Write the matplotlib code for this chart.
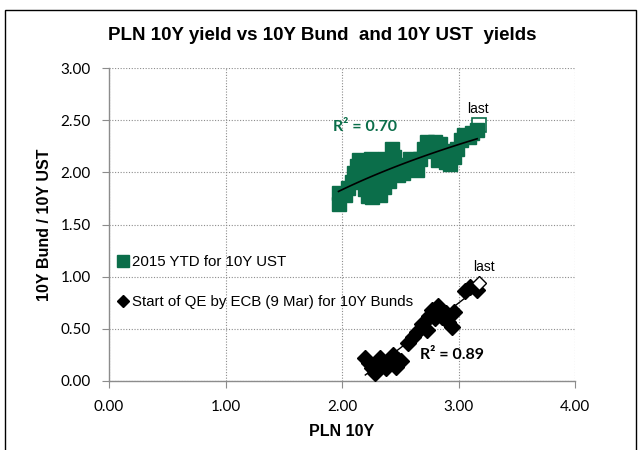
import numpy as np
import matplotlib
matplotlib.use("Agg")
import matplotlib.pyplot as plt
from matplotlib.patches import Rectangle
from matplotlib.lines import Line2D

GREEN = "#0B6E4A"
GRIDC = "#8c8c8c"
NARROW = ["Liberation Sans Narrow", "Liberation Sans", "DejaVu Sans"]
TICKF = ["Lato", "DejaVu Sans"]

# 2015 YTD: PLN 10Y vs 10Y UST
ust_pln = [1.97, 1.97, 2.03, 2.05, 2.09, 2.10, 2.13, 2.15, 2.19, 2.21, 2.20, 2.22,
           2.26, 2.27, 2.27, 2.25, 2.31, 2.33, 2.33, 2.36, 2.37, 2.40, 2.40, 2.43,
           2.45, 2.46, 2.48, 2.52, 2.54, 2.58, 2.62, 2.64, 2.67, 2.70, 2.73, 2.77,
           2.80, 2.82, 2.84, 2.87, 2.89, 2.93, 2.96, 2.99, 3.02, 3.05, 3.09, 3.12, 3.16]
ust_yld = [1.70, 1.80, 1.78, 1.85, 1.91, 1.99, 2.06, 2.12, 2.10, 1.98, 1.84, 1.77,
           1.76, 1.88, 2.02, 2.13, 2.12, 1.97, 1.78, 1.86, 2.13, 2.05, 1.92, 2.22,
           2.15, 2.03, 1.97, 1.99, 2.07, 2.13, 2.08, 2.02, 2.13, 2.22, 2.29, 2.20,
           2.29, 2.12, 2.27, 2.20, 2.10, 2.08, 2.15, 2.22, 2.31, 2.36, 2.34, 2.38, 2.41]
ust_last = (3.18, 2.45)

# Since start of QE by ECB: PLN 10Y vs 10Y Bund
bund_pln = [2.20, 2.23, 2.26, 2.28, 2.30, 2.33, 2.36, 2.38, 2.41, 2.44, 2.46, 2.48,
            2.51, 2.57, 2.61, 2.64, 2.69, 2.73, 2.75, 2.77, 2.80, 2.82, 2.84, 2.86,
            2.89, 2.91, 2.94, 2.96, 3.06, 3.10, 3.16]
bund_yld = [0.22, 0.17, 0.12, 0.08, 0.17, 0.22, 0.17, 0.12, 0.20, 0.25, 0.13, 0.20,
            0.19, 0.36, 0.42, 0.47, 0.55, 0.49, 0.62, 0.68, 0.60, 0.72, 0.66, 0.61,
            0.65, 0.57, 0.52, 0.66, 0.86, 0.90, 0.87]
bund_last = (3.18, 0.94)

r2_ust = "R² = 0.70"
r2_bund = "R² = 0.89"

fig = plt.figure(figsize=(6.42, 4.5), dpi=100)
ax = fig.add_axes([109 / 642, 1 - 381 / 450, 466 / 642, 313 / 450])

# outer chart frame
fig.patches.append(Rectangle((5 / 642, -0.05), 631 / 642, 1.05 - 10 / 450,
                             transform=fig.transFigure, fill=False,
                             edgecolor="black", lw=1.0))

ax.set_xlim(0, 4)
ax.set_ylim(0, 3)
ax.set_xticks(np.arange(0, 4.01, 1.0))
ax.set_yticks(np.arange(0, 3.01, 0.5))
ax.set_xticklabels([f"{v:.2f}" for v in ax.get_xticks()], family=TICKF, fontsize=11)
ax.set_yticklabels([f"{v:.2f}" for v in ax.get_yticks()], family=TICKF, fontsize=11)
ax.grid(True, color=GRIDC, ls=(0, (1, 1.5)), lw=0.8)
ax.set_axisbelow(True)
for s in ["top", "right"]:
    ax.spines[s].set_visible(False)
for s in ["left", "bottom"]:
    ax.spines[s].set_color(GRIDC)
    ax.spines[s].set_linewidth(1.0)
ax.tick_params(direction="out", length=5, color=GRIDC)
ax.tick_params(axis="x", pad=9)
ax.tick_params(axis="y", pad=8)

# UST series
ax.plot(*ust_last, "s", ms=10, mfc="white", mec=GREEN, mew=1.2, zorder=2)
ax.plot(ust_pln, ust_yld, "s", ms=10, color=GREEN, zorder=3)
xu = np.array(ust_pln)
a, b = np.polyfit(np.log(xu), np.array(ust_yld), 1)
xs = np.linspace(xu.min(), xu.max(), 100)
ax.plot(xs, a * np.log(xs) + b, color="black", lw=1.2, zorder=4)

# Bund series
ax.plot(bund_pln, bund_yld, "D", ms=8, color="black", zorder=3)
xb = np.array(bund_pln)
m, c = np.polyfit(xb, np.array(bund_yld), 1)
xs = np.linspace(xb.min(), bund_last[0], 100)
ax.plot(xs, m * xs + c, color="black", lw=1.0, zorder=4)
ax.plot(*bund_last, "D", ms=7.5, mfc="white", mec="black", mew=1.0, zorder=5)

ax.text(3.17, 2.61, "last", ha="center", va="center", fontsize=10, family=NARROW)
ax.text(3.22, 1.09, "last", ha="center", va="center", fontsize=10, family=NARROW)
ax.text(1.92, 2.43, r2_ust, color=GREEN, fontsize=11.5, fontweight="bold",
        family=TICKF, va="center")
ax.text(2.67, 0.25, r2_bund, color="black", fontsize=11.5, fontweight="bold",
        family=TICKF, va="center")

handles = [
    Line2D([], [], ls="", marker="s", ms=8, color=GREEN),
    Line2D([], [], ls="", marker="D", ms=6.5, color="black"),
]
ax.legend(handles, ["2015 YTD for 10Y UST", "Start of QE by ECB (9 Mar) for 10Y Bunds"],
          loc="upper left", bbox_to_anchor=(-0.012, 0.45), frameon=False,
          prop={"family": NARROW, "size": 10.8}, handlelength=0.6,
          handletextpad=0.3, labelspacing=1.75, borderaxespad=0.6)

fig.text(322 / 642, 1 - 36 / 450, "PLN 10Y yield vs 10Y Bund  and 10Y UST  yields",
         ha="center", va="center", fontsize=13.5, fontweight="bold", family=NARROW)
ax.set_xlabel("PLN 10Y", fontsize=11.5, fontweight="bold", family=NARROW, labelpad=7)
ax.set_ylabel("10Y Bund / 10Y UST", fontsize=11.5, fontweight="bold", family=NARROW,
              labelpad=6)

fig.savefig("out.png", dpi=100)
